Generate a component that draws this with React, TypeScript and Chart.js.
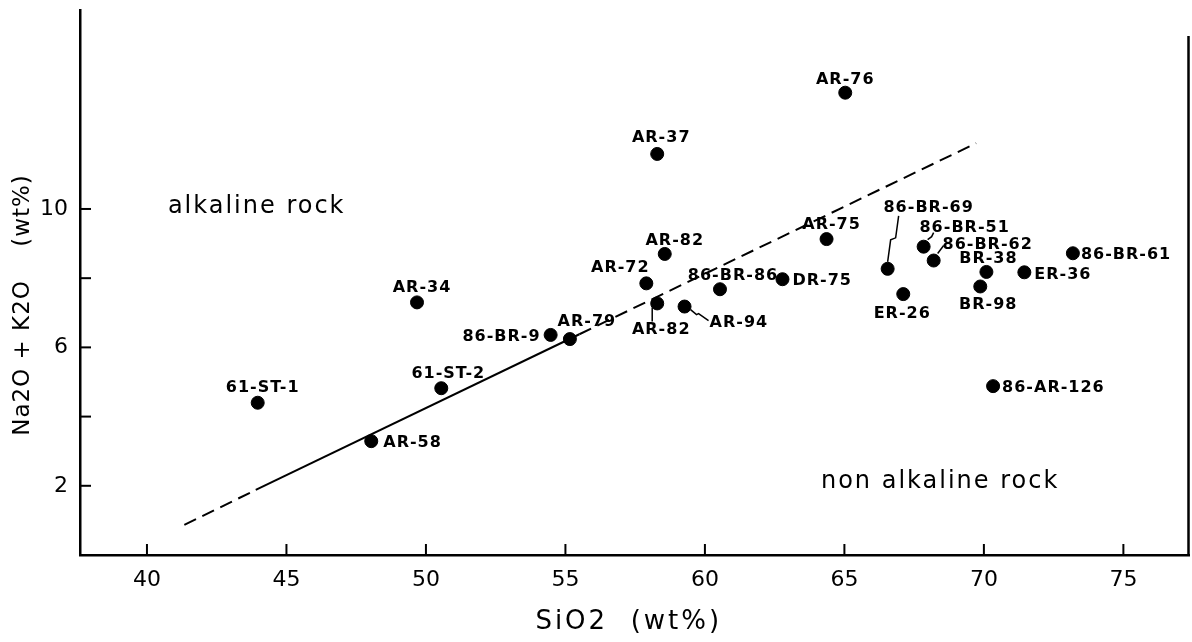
import React, { useEffect, useRef } from "react";
import { Chart, registerables } from "chart.js";

Chart.register(...registerables);

// ---- data ----
const sampleNames = [
  "AR-76", "AR-37", "AR-82", "AR-72", "AR-34", "86-BR-86", "DR-75", "AR-82",
  "AR-94", "86-BR-9", "AR-79", "61-ST-2", "AR-58", "61-ST-1", "AR-75", "86-BR-69",
  "86-BR-51", "86-BR-62", "BR-38", "BR-98", "ER-26", "ER-36", "86-BR-61", "86-AR-126",
];
const siO2 = [
  65.03, 58.29, 58.56, 57.9, 49.68, 60.54, 62.78, 58.29,
  59.27, 54.47, 55.16, 50.55, 48.04, 43.97, 64.36, 66.55,
  67.84, 68.2, 70.09, 69.87, 67.11, 71.45, 73.19, 70.33,
];
const alkali = [
  13.36, 11.59, 8.7, 7.85, 7.3, 7.68, 7.97, 7.27,
  7.18, 6.36, 6.24, 4.82, 3.29, 4.4, 9.13, 8.27,
  8.91, 8.51, 8.18, 7.76, 7.54, 8.17, 8.72, 4.88,
];
// alkaline / non-alkaline boundary (dashed, solid, dashed)
const boundarySiO2 = [41.34, 43.9, 55.5, 69.72];
const boundaryAlkali = [0.87, 1.88, 6.38, 11.9];
const boundaryDashed = [true, false, true];

const xTicks = [40, 45, 50, 55, 60, 65, 70, 75];
const yTickMarks = [2, 4, 6, 8, 10];
const yTickLabels = [2, 6, 10];

const xTitle = "SiO2  (wt%)";
const yTitle = "Na2O + K2O    (wt%)";
const regionTexts = ["alkaline rock", "non alkaline rock"];
const regionSiO2 = [40.75, 64.16];
const regionAlkali = [9.88, 1.94];

// ---- label layout (pixel offsets from each point: dx, dy(baseline), align) ----
const labelLayout: [number, number, CanvasTextAlign][] = [
  [0, -9, "center"], [4, -12, "center"], [10, -9, "center"], [-26, -11, "center"],
  [5, -10, "center"], [13, -9, "center"], [10, 6, "left"], [4, 31, "center"],
  [25, 20, "left"], [-10, 6, "right"], [17, -13, "center"], [7, -10, "center"],
  [12, 6, "left"], [5, -11, "center"], [5, -10, "center"], [41, -57, "center"],
  [41, -15, "center"], [54, -12, "center"], [2, -9, "center"], [8, 23, "center"],
  [-1, 24, "center"], [10, 7, "left"], [8, 6, "left"], [9, 6, "left"],
];
// leader lines: point index -> polyline offsets
const leaders: Record<number, [number, number][]> = {
  7: [[-5, 4], [-5, 18]],
  8: [[6, 3], [12, 8], [14, 7], [24, 14]],
  15: [[11, -53], [8, -31], [3, -29], [0, -7]],
  16: [[10, -14], [8, -10], [4, -7]],
  17: [[10, -15], [7, -11], [4, -7]],
};

const annotate = {
  id: "annotate",
  afterDatasetsDraw(chart: any) {
    const { ctx, scales, chartArea } = chart;
    const xs = scales.x;
    const ys = scales.y;
    ctx.save();
    ctx.strokeStyle = "#000";
    ctx.fillStyle = "#000";
    // right frame line
    ctx.lineWidth = 2.5;
    ctx.beginPath();
    ctx.moveTo(chartArea.right - 1, ys.getPixelForValue(15));
    ctx.lineTo(chartArea.right - 1, chartArea.bottom);
    ctx.stroke();
    // inward tick marks
    ctx.lineWidth = 2;
    xTicks.forEach((v) => {
      const px = xs.getPixelForValue(v);
      ctx.beginPath();
      ctx.moveTo(px, chartArea.bottom);
      ctx.lineTo(px, chartArea.bottom - 11);
      ctx.stroke();
    });
    yTickMarks.forEach((v) => {
      const py = ys.getPixelForValue(v);
      ctx.beginPath();
      ctx.moveTo(chartArea.left, py);
      ctx.lineTo(chartArea.left + 11, py);
      ctx.stroke();
    });
    // leader lines
    const meta = chart.getDatasetMeta(1);
    ctx.lineWidth = 1.5;
    Object.keys(leaders).forEach((k) => {
      const i = Number(k);
      const el = meta.data[i];
      const pts = leaders[i];
      ctx.beginPath();
      pts.forEach(([dx, dy], j) => {
        if (j === 0) ctx.moveTo(el.x + dx, el.y + dy);
        else ctx.lineTo(el.x + dx, el.y + dy);
      });
      ctx.stroke();
    });
    // sample labels
    ctx.font = "bold 16px 'DejaVu Sans'";
    (ctx as any).letterSpacing = "1px";
    ctx.textBaseline = "alphabetic";
    sampleNames.forEach((name, i) => {
      const el = meta.data[i];
      const [dx, dy, al] = labelLayout[i];
      ctx.textAlign = al;
      ctx.fillText(name, el.x + dx, el.y + dy);
    });
    // region texts
    ctx.font = "24px 'DejaVu Sans'";
    (ctx as any).letterSpacing = "2px";
    ctx.textAlign = "left";
    regionTexts.forEach((t, i) => {
      ctx.fillText(t, xs.getPixelForValue(regionSiO2[i]), ys.getPixelForValue(regionAlkali[i]));
    });
    // axis titles
    ctx.font = "26px 'DejaVu Sans'";
    (ctx as any).letterSpacing = "3px";
    ctx.textAlign = "center";
    ctx.textBaseline = "middle";
    ctx.fillText(xTitle, (chartArea.left + chartArea.right) / 2 - 6, 622);
    ctx.font = "23px 'DejaVu Sans'";
    (ctx as any).letterSpacing = "1px";
    ctx.translate(23, 305);
    ctx.rotate(-Math.PI / 2);
    ctx.fillText(yTitle, 0, 0);
    ctx.restore();
  },
};

export default function App() {
  const ref = useRef<HTMLCanvasElement>(null);
  useEffect(() => {
    if (!ref.current) return;
    const chart = new Chart(ref.current, {
      type: "scatter",
      data: {
        datasets: [
          {
            type: "line",
            data: boundarySiO2.map((x, i) => ({ x, y: boundaryAlkali[i] })),
            borderColor: "#000",
            borderWidth: 2,
            pointRadius: 0,
            fill: false,
            segment: {
              borderDash: (ctx: any) => (boundaryDashed[ctx.p0DataIndex] ? [13, 7] : []),
            },
          } as any,
          {
            type: "scatter",
            data: siO2.map((x, i) => ({ x, y: alkali[i] })),
            backgroundColor: "#000",
            borderColor: "#000",
            pointRadius: 6.5,
            pointHoverRadius: 6.5,
          },
        ],
      },
      options: {
        responsive: false,
        animation: false,
        events: [],
        layout: { padding: { top: 10, right: 0, left: 0, bottom: 0 } },
        plugins: { legend: { display: false }, tooltip: { enabled: false } },
        scales: {
          x: {
            type: "linear",
            min: 37.6,
            max: 77.37,
            afterFit: (s: any) => {
              s.height = 87;
              s.paddingLeft = 0;
              s.paddingRight = 0;
            },
            afterBuildTicks: (s: any) => { s.ticks = xTicks.map((v) => ({ value: v })); },
            ticks: {
              color: "#000",
              font: { family: "'DejaVu Sans'", size: 22 },
              padding: 12,
              maxRotation: 0,
            },
            grid: { display: false, drawOnChartArea: false, drawTicks: false },
            border: { display: true, color: "#000", width: 2.5 },
          },
          y: {
            type: "linear",
            min: 0,
            max: 15.75,
            afterFit: (s: any) => {
              s.width = 80;
              s.paddingTop = 0;
              s.paddingBottom = 0;
            },
            afterBuildTicks: (s: any) => { s.ticks = yTickLabels.map((v) => ({ value: v })); },
            ticks: {
              color: "#000",
              font: { family: "'DejaVu Sans'", size: 22 },
              padding: 12,
            },
            grid: { display: false, drawOnChartArea: false, drawTicks: false },
            border: { display: true, color: "#000", width: 2.5 },
          },
        },
      },
      plugins: [annotate],
    });
    return () => chart.destroy();
  }, []);
  return (
    <div style={{ position: "absolute", left: 0, top: 0, width: 1192, height: 642, overflow: "hidden", background: "#fff" }}>
      <canvas ref={ref} width={1197} height={642} style={{ display: "block" }} />
    </div>
  );
}
